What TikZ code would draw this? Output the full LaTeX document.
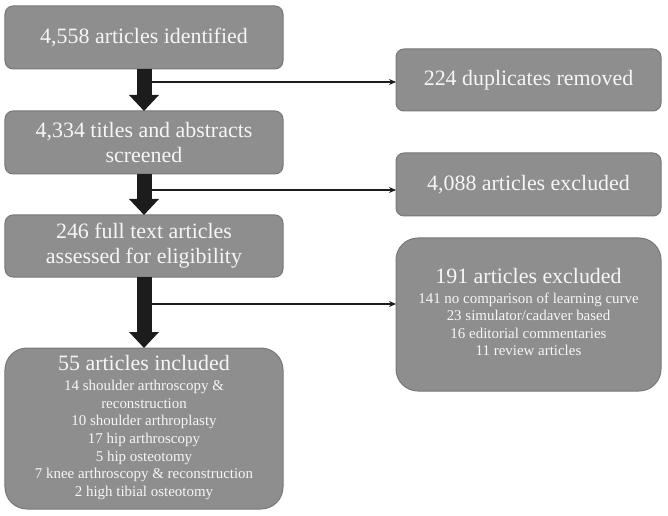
\documentclass[tikz,border=0pt]{standalone}
\usepackage{fontspec}
\setmainfont{Liberation Serif}
\usetikzlibrary{positioning, calc, arrows.meta}
\definecolor{boxgrey}{RGB}{142,142,142}
\definecolor{boxedge}{RGB}{120,120,120}
\definecolor{textwhite}{RGB}{246,246,246}
\definecolor{linedark}{RGB}{28,28,28}

\begin{document}
\begin{tikzpicture}[
          x = 1bp, y = -1bp,
          inner sep = 0, outer sep = 0,
          bigfont/.style = {font = \fontsize{22}{25}\selectfont},
          smallfont/.style = {font = \fontsize{15}{17.6}\selectfont}
        ]
          \tikzstyle {stage} = [draw = boxedge, line width = 1bp, fill = boxgrey, text = textwhite, rounded corners = 8bp, align = center, bigfont]
          \tikzstyle {leftbox} = [stage, minimum width = 278bp, minimum height = 63bp]
          \tikzstyle {rightbox} = [stage, minimum width = 265bp, minimum height = 63bp]
          \tikzstyle {listbox} = [rounded corners = 22bp, smallfont]
          \tikzstyle {flow} = [draw = linedark, line width = 15bp, -{Triangle[width = 29bp, length = 16bp]}]
          \tikzstyle {side} = [draw = linedark, line width = 1.6bp, -{Stealth[width = 6bp, length = 7bp]}]
          \newcommand{\headline}[1]{{\fontsize{22}{25}\selectfont #1}}
          \useasboundingbox (0,0) rectangle (668,516);
          % place nodes
          \path node (ident) [leftbox] at (144,37.5) {4,558 articles identified};
          \path node (titles) [leftbox] at (144,142.5) {4,334 titles and abstracts\\screened};
          \path node (full) [leftbox, minimum height = 62bp] at (144,246) {246 full text articles\\assessed for eligibility};
          \path node (incl) [leftbox, listbox, minimum height = 161bp] at (144,428.5)
            {\begin{tabular}{@{}c@{}}
               \headline{55 articles included}\\[2.5bp]
               14 shoulder arthroscopy \&\\
               reconstruction\\
               10 shoulder arthroplasty\\
               17 hip arthroscopy\\
               5 hip osteotomy\\
               7 knee arthroscopy \& reconstruction\\
               2 high tibial osteotomy
             \end{tabular}};
          \path node (dup) [rightbox, minimum height = 62bp] at (528.5,80) {224 duplicates removed};
          \path node (excl) [rightbox] at (528.5,184.5) {4,088 articles excluded};
          \path node (reason) [rightbox, listbox, minimum height = 153bp] at (528.5,314.5)
            {\begin{tabular}{@{}c@{}}
               \headline{191 articles excluded}\\[2.5bp]
               141 no comparison of learning curve\\
               23 simulator/cadaver based\\
               16 editorial commentaries\\
               11 review articles
             \end{tabular}};
          % branch points
          \coordinate (s1) at ([yshift=-13bp]ident.south);
          \coordinate (s2) at ([yshift=-16bp]titles.south);
          \coordinate (s3) at ([yshift=-27bp]full.south);
          % place edges
          \foreach \s/\t in {s1/dup, s2/excl, s3/reason}
            { \draw [side] (\s) -- (\s -| \t.west) ; } ;
          \foreach \a/\b in {ident/titles, titles/full, full/incl}
            { \draw [flow] (\a.south) -- (\b.north) ; } ;
        \end{tikzpicture}
\end{document}
